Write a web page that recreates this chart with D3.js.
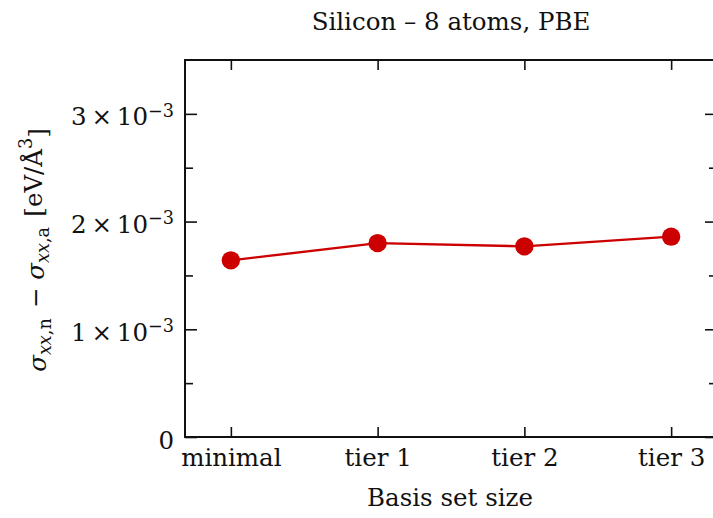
<!DOCTYPE html>
<html>
<head>
<meta charset="utf-8">
<script src="https://cdn.jsdelivr.net/npm/d3@7"></script>
<style>
  html, body { margin: 0; padding: 0; background: #fff; }
  svg { display: block; }
  text { font-family: "DejaVu Serif", serif; fill: #111; }
</style>
</head>
<body>
<svg id="chart" width="713" height="518"></svg>
<script>
// Stress difference per basis set, Si 8 atoms, PBE
const categories = ["minimal", "tier 1", "tier 2", "tier 3"];
const stressDiff = [1.64e-3, 1.80e-3, 1.77e-3, 1.86e-3];
const majorTicks = [0, 1e-3, 2e-3, 3e-3];
const minorTicks = [0.5e-3, 1.5e-3, 2.5e-3];

const svg = d3.select("#chart");
const plotL = 185, plotR = 717, plotT = 60, plotB = 437;
const fs = 24.5;

const x = d3.scalePoint().domain(categories).range([plotL, plotR]).padding(0.3125);
const y = d3.scaleLinear().domain([0, 3.5e-3]).range([plotB, plotT]);

// frame
svg.append("rect")
  .attr("x", plotL).attr("y", plotT)
  .attr("width", plotR - plotL).attr("height", plotB - plotT)
  .attr("fill", "none").attr("stroke", "#111").attr("stroke-width", 2);

function styleAxis(g) {
  g.select(".domain").remove();
  g.selectAll(".tick line").attr("stroke", "#111").attr("stroke-width", 1.6);
}

// left axis, ticks pointing inward
const gLeft = svg.append("g").attr("transform", `translate(${plotL},0)`)
  .call(d3.axisLeft(y).tickValues(majorTicks).tickSize(-12).tickPadding(11).tickFormat(""))
  .call(styleAxis);
gLeft.selectAll(".tick text")
  .attr("font-size", fs).attr("dy", "0.45em")
  .attr("font-family", "DejaVu Serif, serif").attr("fill", "#111")
  .each(function (d) {
    const t = d3.select(this);
    if (d === 0) { t.text("0"); return; }
    const m = Math.round(d / 1e-3);
    t.append("tspan").text(m + "\u2009×\u200910");
    t.append("tspan").attr("dy", "-0.5em").attr("font-size", fs * 0.72).text("\u22123");
  });
svg.append("g").attr("transform", `translate(${plotL},0)`)
  .call(d3.axisLeft(y).tickValues(minorTicks).tickSize(-8).tickFormat(""))
  .call(styleAxis);

// right axis, ticks pointing inward
svg.append("g").attr("transform", `translate(${plotR},0)`)
  .call(d3.axisRight(y).tickValues(majorTicks).tickSize(-12).tickFormat(""))
  .call(styleAxis);
svg.append("g").attr("transform", `translate(${plotR},0)`)
  .call(d3.axisRight(y).tickValues(minorTicks).tickSize(-8).tickFormat(""))
  .call(styleAxis);

// bottom axis
const gBottom = svg.append("g").attr("transform", `translate(0,${plotB})`)
  .call(d3.axisBottom(x).tickSize(-10).tickPadding(12))
  .call(styleAxis);
gBottom.selectAll(".tick text")
  .attr("font-size", fs).attr("font-family", "DejaVu Serif, serif").attr("fill", "#111");

// top axis
svg.append("g").attr("transform", `translate(0,${plotT})`)
  .call(d3.axisTop(x).tickSize(-10).tickFormat(""))
  .call(styleAxis);

// series line + markers
const line = d3.line().x((d, i) => x(categories[i])).y(d => y(d));
svg.append("path").datum(stressDiff)
  .attr("d", line).attr("fill", "none")
  .attr("stroke", "#cc0000").attr("stroke-width", 2.4);
svg.append("g").selectAll("circle").data(stressDiff).join("circle")
  .attr("cx", (d, i) => x(categories[i]))
  .attr("cy", d => y(d))
  .attr("r", 9.2)
  .attr("fill", "#cc0000");

// title
svg.append("text")
  .attr("x", 451).attr("y", 30)
  .attr("text-anchor", "middle").attr("font-size", fs)
  .text("Silicon – 8 atoms, PBE");

// x-axis label
svg.append("text")
  .attr("x", 450).attr("y", 506)
  .attr("text-anchor", "middle").attr("font-size", fs)
  .text("Basis set size");

// y-axis label with sub/superscripts
const yl = svg.append("text")
  .attr("transform", "translate(46,250) rotate(-90)")
  .attr("text-anchor", "middle").attr("font-size", fs);
function sigma(sub) {
  yl.append("tspan").attr("font-style", "italic").text("σ");
  yl.append("tspan").attr("dy", "0.3em").attr("font-size", fs * 0.72)
    .attr("font-style", "italic").text("xx");
  yl.append("tspan").attr("font-size", fs * 0.72).text("," + sub);
  yl.append("tspan").attr("dy", "-0.3em").text("\u200a");
}
sigma("n");
yl.append("tspan").text(" − ");
sigma("a");
yl.append("tspan").text(" [eV/Å");
yl.append("tspan").attr("dy", "-0.55em").attr("font-size", fs * 0.72).text("3");
yl.append("tspan").attr("dy", "0.55em").text("]");
</script>
</body>
</html>
